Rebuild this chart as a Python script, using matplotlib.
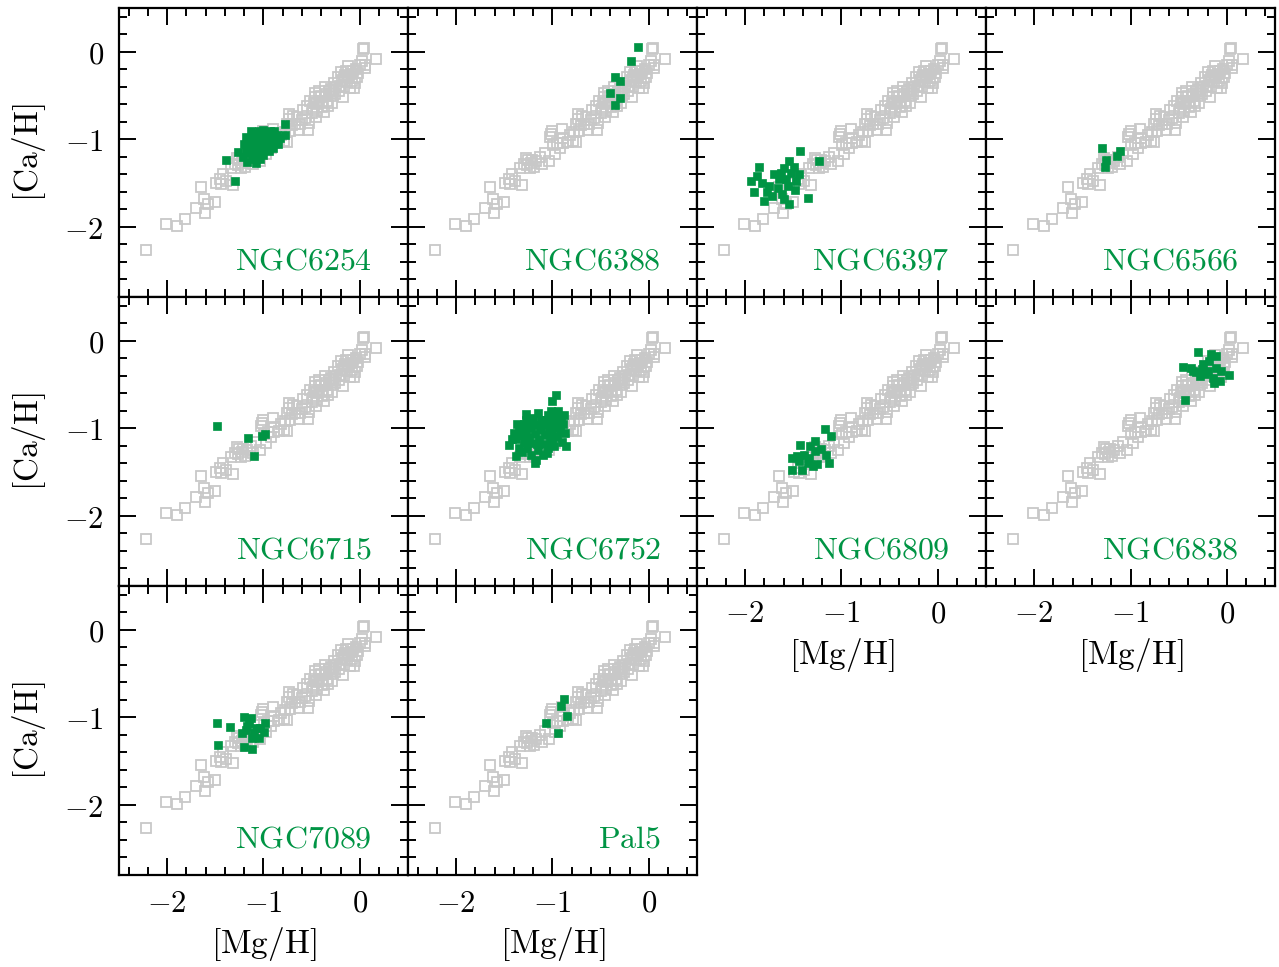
import matplotlib
matplotlib.use("Agg")
import matplotlib.pyplot as plt
from matplotlib.ticker import MultipleLocator, FuncFormatter

plt.rcParams['mathtext.fontset'] = 'cm'
plt.rcParams['font.family'] = 'serif'

GRAY = '#c8c8c8'
GREEN = '#009444'

# comparison sample: [Mg/H], [Ca/H]
field = [
    (-2.22, -2.26), (-2.01, -1.97), (-1.90, -1.99), (-1.82, -1.91), (-1.70, -1.78),
    (-1.61, -1.84), (-1.62, -1.68), (-1.58, -1.74), (-1.50, -1.71), (-1.65, -1.54),
    (-1.49, -1.50), (-1.44, -1.51), (-1.39, -1.47), (-1.42, -1.40), (-1.32, -1.52),
    (-1.34, -1.33), (-1.28, -1.21), (-1.26, -1.29), (-1.22, -1.27), (-1.21, -1.24),
    (-1.23, -1.33), (-1.19, -1.31), (-1.17, -1.25), (-1.11, -1.28), (-1.08, -1.16),
    (-1.04, -1.25), (-0.97, -1.17), (-1.02, -0.94), (-1.00, -0.90), (-1.03, -0.97),
    (-0.99, -1.06), (-0.95, -1.04), (-0.90, -0.88), (-0.89, -0.98), (-0.89, -1.04),
    (-0.84, -1.03), (-0.79, -1.02), (-0.76, -1.03), (-0.78, -0.92), (-0.76, -0.82),
    (-0.74, -0.71), (-0.74, -0.77), (-0.70, -0.84), (-0.69, -0.73), (-0.67, -0.82),
    (-0.63, -0.89), (-0.62, -0.83), (-0.59, -0.66), (-0.57, -0.76), (-0.54, -0.89),
    (-0.53, -0.81), (-0.52, -0.56), (-0.49, -0.65), (-0.47, -0.52), (-0.47, -0.47),
    (-0.45, -0.60), (-0.44, -0.68), (-0.42, -0.56), (-0.39, -0.63), (-0.37, -0.69),
    (-0.35, -0.48), (-0.34, -0.56), (-0.32, -0.45), (-0.30, -0.42), (-0.29, -0.58),
    (-0.27, -0.36), (-0.26, -0.48), (-0.23, -0.29), (-0.21, -0.39), (-0.20, -0.23),
    (-0.19, -0.32), (-0.17, -0.52), (-0.15, -0.26), (-0.13, -0.35), (-0.12, -0.16),
    (-0.10, -0.41), (-0.09, -0.25), (-0.08, -0.33), (-0.06, -0.41), (-0.04, -0.20),
    (-0.03, -0.29), (0.00, -0.15), (0.03, 0.03), (0.04, 0.04), (0.05, -0.15),
    (0.05, -0.18), (0.17, -0.08), (-0.55, -0.62), (-0.50, -0.70), (-0.45, -0.75),
    (-0.40, -0.50), (-0.38, -0.58), (-0.33, -0.62), (-0.30, -0.50), (-0.28, -0.44),
    (-0.25, -0.40), (-0.22, -0.45), (-0.18, -0.40), (-0.16, -0.30), (-0.14, -0.22),
    (-0.11, -0.28), (-0.07, -0.22), (-0.05, -0.36), (-0.02, -0.24), (-0.60, -0.78),
    (-0.65, -0.75), (-0.72, -0.90), (-0.82, -0.95), (-0.92, -1.10), (-1.13, -1.20),
    (-1.25, -1.24), (-1.30, -1.28), (-1.45, -1.45), (0.02, -0.10), (-0.36, -0.40),
    (-0.42, -0.45), (-0.48, -0.58),
]

ngc6254 = [
    (-1.39, -1.24), (-1.26, -1.15), (-1.30, -1.47), (-1.17, -1.26), (-1.13, -0.90),
    (-1.16, -0.98), (-1.01, -0.89), (-0.89, -0.90), (-0.78, -0.82), (-0.78, -0.95),
    (-0.94, -1.13), (-1.08, -1.19), (-1.20, -1.05), (-1.18, -1.12), (-1.15, -1.05),
    (-1.12, -1.00), (-1.10, -1.10), (-1.08, -0.95), (-1.06, -1.04), (-1.05, -1.15),
    (-1.03, -0.98), (-1.02, -1.08), (-1.00, -1.00), (-0.98, -1.12), (-0.97, -0.95),
    (-0.96, -1.05), (-0.94, -0.99), (-0.92, -1.06), (-0.91, -0.93), (-0.88, -1.00),
    (-0.86, -0.95), (-0.85, -1.05), (-1.14, -1.16), (-1.12, -1.22), (-1.07, -1.10),
    (-1.04, -1.22), (-1.00, -1.18), (-0.99, -0.92), (-1.10, -0.94), (-1.16, -1.10),
    (-1.21, -1.20), (-1.00, -1.05), (-0.95, -1.02), (-0.90, -1.10), (-1.05, -0.90),
    (-1.11, -1.03), (-0.93, -0.90), (-0.83, -0.98), (-1.18, -0.97), (-1.08, -1.27),
]
ngc6388 = [
    (-0.11, 0.05), (-0.18, -0.10), (-0.35, -0.29), (-0.30, -0.33), (-0.40, -0.47),
    (-0.30, -0.53), (-0.35, -0.61),
]
ngc6397 = [
    (-1.43, -1.13), (-1.54, -1.25), (-1.60, -1.33), (-1.49, -1.31), (-1.23, -1.25),
    (-1.86, -1.31), (-1.65, -1.45), (-1.94, -1.48), (-1.91, -1.60), (-1.75, -1.53),
    (-1.56, -1.53), (-1.47, -1.47), (-1.80, -1.70), (-1.54, -1.74), (-1.35, -1.67),
    (-1.62, -1.62), (-1.83, -1.50), (-1.70, -1.40), (-1.58, -1.45), (-1.52, -1.38),
    (-1.66, -1.56), (-1.72, -1.65), (-1.48, -1.58), (-1.60, -1.68), (-1.88, -1.42),
    (-1.77, -1.60), (-1.63, -1.38), (-1.44, -1.40),
]
ngc6566 = [(-1.30, -1.10), (-1.25, -1.23), (-1.26, -1.31), (-1.11, -1.13), (-1.14, -1.19)]
ngc6715 = [(-1.48, -0.97), (-1.16, -1.11), (-1.02, -1.09), (-0.98, -1.06), (-1.10, -1.32)]
ngc6752 = [
    (-0.96, -0.62), (-1.00, -0.69), (-1.28, -0.84), (-1.17, -1.36), (-1.38, -1.32),
    (-1.45, -1.19), (-1.40, -1.05), (-1.38, -1.12), (-1.35, -1.00), (-1.33, -1.08),
    (-1.30, -1.15), (-1.30, -0.95), (-1.28, -1.03), (-1.26, -1.22), (-1.25, -0.92),
    (-1.24, -1.10), (-1.22, -1.00), (-1.20, -1.17), (-1.20, -0.88), (-1.18, -1.06),
    (-1.17, -0.96), (-1.15, -1.25), (-1.14, -1.12), (-1.12, -0.90), (-1.12, -1.02),
    (-1.10, -1.18), (-1.08, -0.95), (-1.08, -1.08), (-1.06, -1.28), (-1.05, -0.85),
    (-1.04, -1.00), (-1.03, -1.15), (-1.01, -0.92), (-1.00, -1.06), (-0.98, -1.20),
    (-0.97, -0.86), (-0.96, -0.98), (-0.95, -1.10), (-0.93, -0.90), (-0.92, -1.03),
    (-0.90, -1.15), (-0.89, -0.95), (-0.88, -0.85), (-0.87, -1.05), (-0.86, -1.20),
    (-1.35, -1.22), (-1.42, -1.12), (-1.32, -1.27), (-1.22, -1.30), (-1.10, -1.30),
    (-1.18, -1.40), (-1.27, -0.90), (-1.15, -0.82), (-1.02, -0.80), (-0.94, -0.80),
    (-1.25, -1.13), (-1.13, -0.98), (-1.00, -1.13), (-0.91, -0.88), (-1.05, -1.22),
    (-1.24, -0.97), (-1.37, -0.95), (-1.16, -1.18), (-1.07, -0.90),
]
ngc6809 = [
    (-1.17, -1.01), (-1.11, -1.09), (-1.43, -1.19), (-1.27, -1.14), (-1.33, -1.20),
    (-1.51, -1.34), (-1.51, -1.48), (-1.41, -1.47), (-1.13, -1.39), (-1.16, -1.30),
    (-1.27, -1.26), (-1.34, -1.34), (-1.44, -1.37), (-1.25, -1.41), (-1.21, -1.24),
    (-1.39, -1.30), (-1.30, -1.43), (-1.46, -1.32), (-1.35, -1.39),
]
ngc6838 = [
    (-0.30, -0.13), (-0.16, -0.15), (-0.11, -0.17), (-0.46, -0.30), (-0.37, -0.31),
    (-0.25, -0.27), (-0.20, -0.34), (-0.28, -0.40), (-0.14, -0.42), (-0.07, -0.46),
    (0.02, -0.39), (-0.06, -0.34), (-0.32, -0.36), (-0.23, -0.38), (-0.11, -0.31),
    (-0.18, -0.23), (-0.35, -0.34), (-0.26, -0.32), (-0.13, -0.48), (-0.43, -0.68),
]
ngc7089 = [
    (-1.48, -1.07), (-1.35, -1.11), (-1.47, -1.32), (-1.20, -1.34), (-1.12, -1.36),
    (-1.20, -1.00), (-1.13, -1.01), (-0.98, -1.06), (-0.99, -1.17), (-1.05, -1.23),
    (-1.12, -1.24), (-1.08, -1.12), (-1.18, -1.14), (-1.15, -1.06), (-1.04, -1.12),
    (-1.22, -1.18), (-1.10, -1.18), (-1.17, -1.10),
]
pal5 = [(-0.88, -0.79), (-0.91, -0.87), (-0.85, -0.99), (-1.07, -1.07), (-0.94, -1.18)]

names = ['NGC6254', 'NGC6388', 'NGC6397', 'NGC6566', 'NGC6715',
         'NGC6752', 'NGC6809', 'NGC6838', 'NGC7089', 'Pal5']
clusters = [ngc6254, ngc6388, ngc6397, ngc6566, ngc6715,
            ngc6752, ngc6809, ngc6838, ngc7089, pal5]

fig = plt.figure(figsize=(12.79, 9.67), dpi=100)

W, H = 1279, 967
left, top, size = 119, 8, 289

def tick_fmt(v, pos):
    return r'$%d$' % round(v)

fx = [p[0] for p in field]
fy = [p[1] for p in field]

for i, (name, pts) in enumerate(zip(names, clusters)):
    row, col = divmod(i, 4)
    x0 = (left + col * size) / W
    y0 = 1 - (top + (row + 1) * size) / H
    ax = fig.add_axes([x0, y0, size / W, size / H])

    ax.plot(fx, fy, 's', ms=6.8, mfc='none', mec=GRAY, mew=1.3)
    ax.plot([p[0] for p in pts], [p[1] for p in pts], 's', ms=6.4,
            mfc=GREEN, mec=GREEN, mew=0.5)

    ax.set_xlim(-2.5, 0.5)
    ax.set_ylim(-2.8, 0.5)
    ax.xaxis.set_major_locator(MultipleLocator(1))
    ax.xaxis.set_minor_locator(MultipleLocator(0.2))
    ax.yaxis.set_major_locator(MultipleLocator(1))
    ax.yaxis.set_minor_locator(MultipleLocator(0.2))
    ax.xaxis.set_major_formatter(FuncFormatter(tick_fmt))
    ax.yaxis.set_major_formatter(FuncFormatter(tick_fmt))
    ax.tick_params(which='both', direction='in', top=True, right=True,
                   width=1.4, labelsize=22)
    ax.tick_params(which='major', length=12)
    ax.tick_params(which='minor', length=6)
    ax.tick_params(axis='x', pad=9)
    ax.tick_params(axis='y', pad=11)
    for s in ax.spines.values():
        s.set_linewidth(1.6)

    show_x = (row == 2) or (row == 1 and col >= 2)
    show_y = col == 0
    ax.tick_params(labelbottom=show_x, labelleft=show_y)
    if show_x:
        ax.set_xlabel(r'$\mathrm{[Mg/H]}$', fontsize=24, labelpad=5)
    if show_y:
        ax.set_ylabel(r'$\mathrm{[Ca/H]}$', fontsize=24, labelpad=12)

    ax.text(0.875, 0.125, r'$\mathrm{%s}$' % name, transform=ax.transAxes,
            ha='right', va='center', fontsize=23, color=GREEN)

fig.savefig('out.png', dpi=100)
